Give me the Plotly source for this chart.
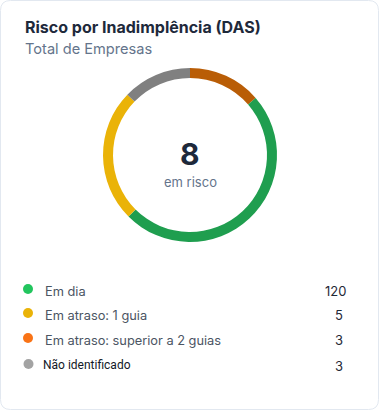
import plotly.graph_objects as go

# ---- data ----
categories = ["Em dia", "Em atraso: 1 guia", "Em atraso: superior a 2 guias", "Não identificado"]
counts = [120, 5, 3, 3]
# donut arc shares (percent of ring), clockwise from top
donut_order = ["Em atraso: superior a 2 guias", "Em dia", "Em atraso: 1 guia", "Não identificado"]
donut_shares = [13.6, 48.9, 24.7, 12.8]
center_value = "8"
center_label = "em risco"
title = "Risco por Inadimplência (DAS)"
subtitle = "Total de Empresas"

# ---- styles ----
W, H = 379, 410
donut_colors = {"Em dia": "#1f9e4f", "Em atraso: 1 guia": "#eab308",
                "Em atraso: superior a 2 guias": "#b95d06", "Não identificado": "#808080"}
dot_colors = {"Em dia": "#22c55e", "Em atraso: 1 guia": "#eab308",
              "Em atraso: superior a 2 guias": "#f97316", "Não identificado": "#a3a3a3"}

def px(x):
    return x / W

def py(y):
    return 1 - y / H

fig = go.Figure()

cx, cy, r = 190, 155, 87
fig.add_trace(go.Pie(
    labels=donut_order, values=donut_shares, hole=0.885, sort=False,
    direction="clockwise", rotation=0,
    marker=dict(colors=[donut_colors[c] for c in donut_order], line=dict(width=0)),
    textinfo="none", hoverinfo="skip", showlegend=False,
    domain=dict(x=[px(cx - r), px(cx + r)], y=[py(cy + r), py(cy - r)]),
))

ann = []
ann.append(dict(x=px(22.5), y=py(26.5), text=f"<b>{title}</b>", xanchor="left", yanchor="middle",
                font=dict(family="Inter", size=16, color="#1e293b")))
ann.append(dict(x=px(23), y=py(48.5), text=subtitle, xanchor="left", yanchor="middle",
                font=dict(family="Inter", size=14.6, color="#64748b")))
ann.append(dict(x=px(cx), y=py(154), text=f"<b>{center_value}</b>", xanchor="center", yanchor="middle",
                font=dict(family="Inter", size=30, color="#1e293b")))
ann.append(dict(x=px(cx), y=py(182), text=center_label, xanchor="center", yanchor="middle",
                font=dict(family="Inter", size=13, color="#64748b")))

rows_y = [291, 315, 340, 366]
shapes = []
for i, (cat, n) in enumerate(zip(categories, counts)):
    y = rows_y[i]
    dx = 28 if i < 3 else 28.5
    shapes.append(dict(type="circle", xref="paper", yref="paper",
                       x0=px(dx - 5), x1=px(dx + 5), y0=py(y - 2 + 5), y1=py(y - 2 - 5),
                       fillcolor=dot_colors[cat], line=dict(width=0)))
    if i < 3:
        ann.append(dict(x=px(43), y=py(y), text=cat, xanchor="left", yanchor="middle",
                        font=dict(family="Inter", size=12.8, color="#4b5563")))
    else:
        ann.append(dict(x=px(41), y=py(y - 1), text=cat, xanchor="left", yanchor="middle",
                        font=dict(family="Roboto", size=12, color="#111827")))
    ann.append(dict(x=px(348 if i == 0 else 344.5), y=py(y), text=str(n), xanchor="right", yanchor="middle",
                    font=dict(family="Inter", size=13, color="#1f2937")))

for a in ann:
    a.update(xref="paper", yref="paper", showarrow=False)

# card border (rounded rectangle)
rr = 10
x0, y0, x1, y1 = 0.5, 0.5, 378.5, 409.5
path = (f"M {px(x0+rr)},{py(y0)} L {px(x1-rr)},{py(y0)} Q {px(x1)},{py(y0)} {px(x1)},{py(y0+rr)} "
        f"L {px(x1)},{py(y1-rr)} Q {px(x1)},{py(y1)} {px(x1-rr)},{py(y1)} "
        f"L {px(x0+rr)},{py(y1)} Q {px(x0)},{py(y1)} {px(x0)},{py(y1-rr)} "
        f"L {px(x0)},{py(y0+rr)} Q {px(x0)},{py(y0)} {px(x0+rr)},{py(y0)} Z")
shapes.insert(0, dict(type="path", xref="paper", yref="paper", path=path,
                      line=dict(color="#e2e8f0", width=1), fillcolor="white", layer="below"))

fig.update_layout(
    width=W, height=H, margin=dict(l=0, r=0, t=0, b=0),
    paper_bgcolor="white", plot_bgcolor="white",
    annotations=ann, shapes=shapes, showlegend=False,
)

fig.write_html("out.html", config={"displayModeBar": False})
